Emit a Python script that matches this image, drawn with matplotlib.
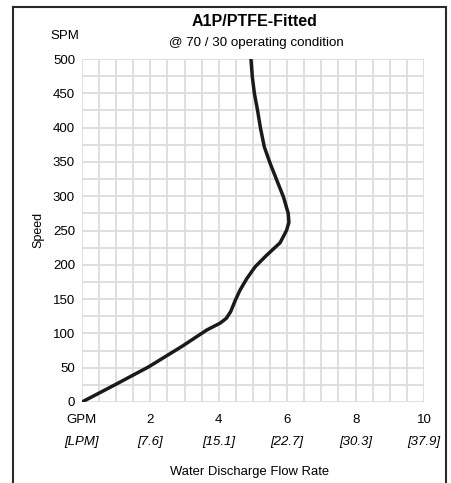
import matplotlib.pyplot as plt
from matplotlib.lines import Line2D

# curve (GPM vs SPM)
gpm = [0.0, 0.96, 1.94, 2.92, 3.65, 4.04, 4.22, 4.35, 4.48, 4.62, 4.82, 5.06, 5.40,
       5.79, 5.98, 6.05, 6.03, 5.89, 5.69, 5.50, 5.33, 5.22, 5.13, 5.04, 4.98, 4.94]
spm = [0, 25, 51, 81, 105, 115, 122, 132, 148, 163, 180, 197, 214,
       232, 250, 262, 275, 299, 324, 348, 372, 399, 426, 450, 474, 500]

xticks = [0, 2, 4, 6, 8, 10]
gpm_labels = ['GPM', '2', '4', '6', '8', '10']
lpm_labels = ['[LPM]', '[7.6]', '[15.1]', '[22.7]', '[30.3]', '[37.9]']
yticks = [0, 50, 100, 150, 200, 250, 300, 350, 400, 450, 500]

plt.rcParams['font.family'] = ['Liberation Sans', 'DejaVu Sans']

dpi = 100
fig = plt.figure(figsize=(452 / dpi, 483 / dpi), dpi=dpi)
ax = fig.add_axes([82 / 452, 1 - 402 / 483, 342 / 452, 343 / 483])

ax.set_xlim(0, 10)
ax.set_ylim(0, 500)
# light grid, every 0.5 GPM and 25 SPM
for i in range(21):
    ax.axvline(i * 0.5, color='#dcdcdc', linewidth=1.3, zorder=0)
    ax.axhline(i * 25, color='#dcdcdc', linewidth=1.3, zorder=0)
for s in ax.spines.values():
    s.set_visible(False)
ax.tick_params(which='both', length=0)

ax.plot(gpm, spm, color='#1a1a1a', linewidth=2.5, solid_capstyle='butt', zorder=3)

ax.set_yticks(yticks)
ax.set_yticklabels([str(v) for v in yticks], fontsize=9.5)
ax.tick_params(axis='y', pad=5)
ax.set_xticks(xticks)
ax.set_xticklabels([])
for x, g, l in zip(xticks, gpm_labels, lpm_labels):
    ax.text(x, -18, g, ha='center', va='top', fontsize=9.5)
    ax.text(x, -49, l, ha='center', va='top', fontsize=9.5, style='italic')

fig.text(255 / 452, 1 - 22 / 483, 'A1P/PTFE-Fitted', ha='center', va='center',
         fontsize=11.5, fontweight='bold')
fig.text(256 / 452, 1 - 43 / 483, '@ 70 / 30 operating condition', ha='center',
         va='center', fontsize=9.6)
fig.text(65 / 452, 1 - 36 / 483, 'SPM', ha='center', va='center', fontsize=9.5)
fig.text(38 / 452, 1 - 230 / 483, 'Speed', ha='center', va='center', fontsize=9,
         rotation=90)
fig.text(250 / 452, 1 - 472 / 483, 'Water Discharge Flow Rate', ha='center',
         va='center', fontsize=9.4)

# outer frame
fc = '#2a2a2a'
fig.add_artist(Line2D([13 / 452, 13 / 452], [0, 1 - 7 / 483], color=fc, linewidth=1.5))
fig.add_artist(Line2D([446 / 452, 446 / 452], [0, 1 - 7 / 483], color=fc, linewidth=1.5))
fig.add_artist(Line2D([13 / 452, 446 / 452], [1 - 7 / 483, 1 - 7 / 483], color=fc, linewidth=1.5))

fig.savefig('out.png', dpi=dpi)
